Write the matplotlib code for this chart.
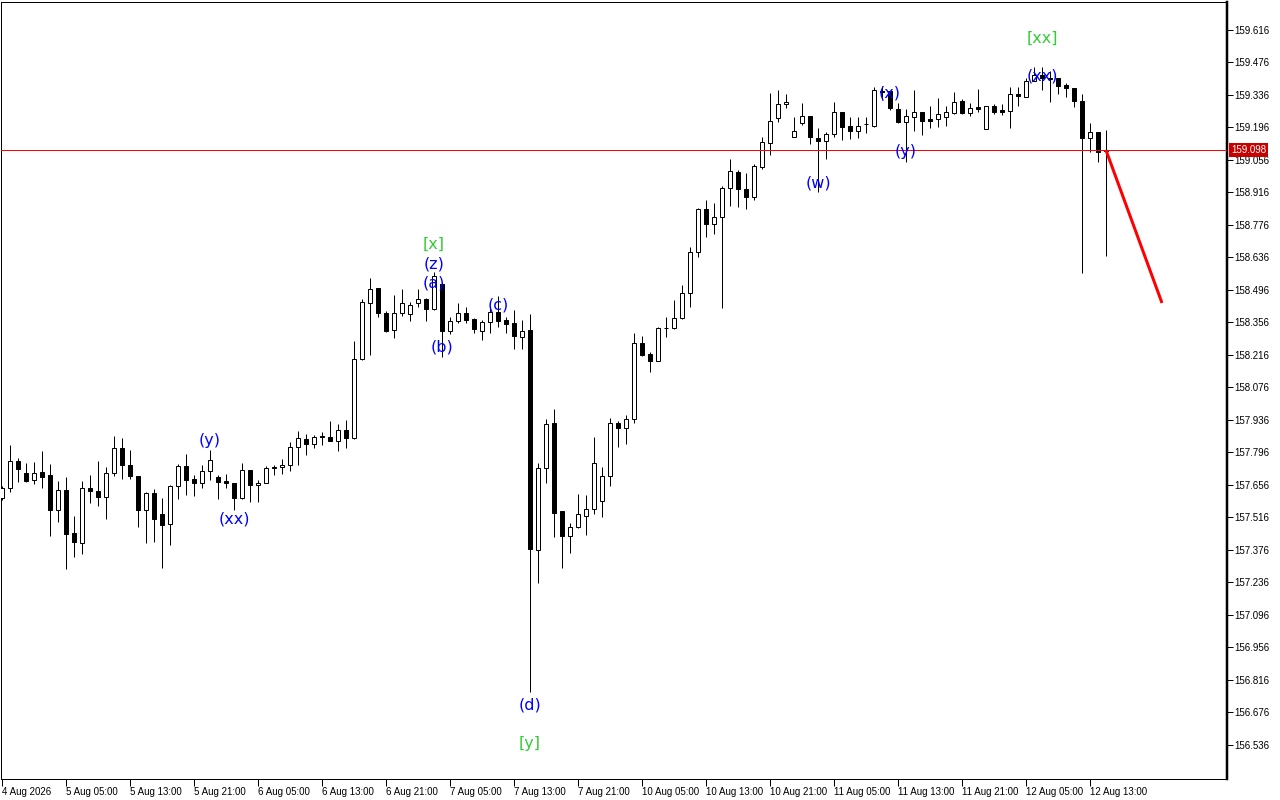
import numpy as np
import matplotlib
matplotlib.use('Agg')
import matplotlib.pyplot as plt
from matplotlib.patches import Rectangle

# hourly candles, bar 0 = 4 Aug 21:00
opens = [157.600, 157.642, 157.758, 157.706, 157.679, 157.711, 157.698, 157.547, 157.633, 157.448,
         157.407, 157.642, 157.630, 157.606, 157.706, 157.814, 157.741, 157.695, 157.550, 157.622,
         157.530, 157.487, 157.650, 157.737, 157.681, 157.663, 157.715, 157.689, 157.672, 157.663,
         157.599, 157.719, 157.655, 157.663, 157.732, 157.732, 157.741, 157.818, 157.853, 157.831,
         157.866, 157.861, 157.844, 157.892, 157.857, 158.197, 158.440, 158.503, 158.396, 158.324,
         158.396, 158.393, 158.439, 158.456, 158.413, 158.522, 158.321, 158.364, 158.396, 158.370,
         158.321, 158.357, 158.400, 158.367, 158.353, 158.295, 158.324, 157.376, 157.728, 157.922,
         157.544, 157.438, 157.476, 157.524, 157.551, 157.588, 157.695, 157.922, 157.900, 157.939,
         158.266, 158.219, 158.191, 158.331, 158.331, 158.374, 158.482, 158.658, 158.844, 158.779,
         158.809, 158.934, 159.003, 158.930, 158.895, 159.027, 159.128, 159.236, 159.296, 159.156,
         159.217, 159.246, 159.150, 159.139, 159.168, 159.261, 159.202, 159.182, 159.210, 159.202,
         159.353, 159.353, 159.274, 159.221, 159.243, 159.264, 159.231, 159.231, 159.243, 159.260,
         159.310, 159.257, 159.283, 159.188, 159.289, 159.271, 159.268, 159.340, 159.326, 159.396,
         159.422, 159.408, 159.408, 159.379, 159.365, 159.310, 159.149, 159.178, 159.095]
highs = [157.652, 157.828, 157.774, 157.750, 157.754, 157.802, 157.748, 157.672, 157.689, 157.522,
         157.673, 157.698, 157.759, 157.732, 157.867, 157.857, 157.807, 157.696, 157.626, 157.637,
         157.600, 157.655, 157.745, 157.791, 157.698, 157.741, 157.807, 157.698, 157.702, 157.663,
         157.752, 157.719, 157.676, 157.737, 157.741, 157.767, 157.840, 157.887, 157.874, 157.870,
         157.883, 157.930, 157.917, 157.935, 158.275, 158.457, 158.546, 158.505, 158.407, 158.474,
         158.499, 158.446, 158.499, 158.460, 158.574, 158.526, 158.378, 158.439, 158.421, 158.374,
         158.367, 158.417, 158.470, 158.381, 158.410, 158.367, 158.393, 157.749, 157.939, 157.983,
         157.544, 157.491, 157.617, 157.613, 157.864, 157.732, 157.943, 157.932, 157.957, 158.309,
         158.298, 158.229, 158.335, 158.378, 158.453, 158.518, 158.680, 158.848, 158.884, 158.872,
         158.944, 159.060, 159.013, 159.001, 159.039, 159.156, 159.343, 159.358, 159.339, 159.243,
         159.300, 159.246, 159.193, 159.178, 159.305, 159.261, 159.243, 159.243, 159.240, 159.372,
         159.375, 159.353, 159.300, 159.274, 159.358, 159.264, 159.289, 159.322, 159.289, 159.348,
         159.317, 159.300, 159.361, 159.290, 159.296, 159.296, 159.372, 159.372, 159.410, 159.458,
         159.458, 159.441, 159.408, 159.386, 159.365, 159.339, 159.214, 159.178, 159.185]
lows = [157.591, 157.627, 157.668, 157.669, 157.660, 157.644, 157.438, 157.498, 157.295, 157.347,
        157.359, 157.580, 157.566, 157.510, 157.696, 157.682, 157.682, 157.476, 157.407, 157.412,
        157.300, 157.399, 157.596, 157.613, 157.610, 157.642, 157.678, 157.594, 157.642, 157.548,
        157.597, 157.584, 157.581, 157.663, 157.698, 157.702, 157.715, 157.741, 157.784, 157.814,
        157.827, 157.844, 157.801, 157.814, 157.854, 158.194, 158.216, 158.381, 158.316, 158.288,
        158.385, 158.364, 158.424, 158.364, 158.410, 158.209, 158.306, 158.353, 158.355, 158.309,
        158.281, 158.312, 158.335, 158.312, 158.241, 158.241, 156.764, 157.233, 157.663, 157.433,
        157.297, 157.362, 157.469, 157.441, 157.530, 157.519, 157.653, 157.818, 157.831, 157.922,
        158.212, 158.144, 158.190, 158.292, 158.330, 158.373, 158.424, 158.639, 158.726, 158.736,
        158.417, 158.859, 158.855, 158.845, 158.884, 159.017, 159.078, 159.221, 159.279, 159.156,
        159.207, 159.124, 158.919, 159.060, 159.156, 159.142, 159.145, 159.149, 159.174, 159.199,
        159.314, 159.271, 159.214, 159.049, 159.182, 159.164, 159.193, 159.199, 159.204, 159.254,
        159.253, 159.246, 159.264, 159.188, 159.253, 159.250, 159.195, 159.290, 159.326, 159.396,
        159.358, 159.307, 159.339, 159.326, 159.283, 158.569, 159.092, 159.049, 158.643]
closes = [157.643, 157.758, 157.726, 157.675, 157.706, 157.692, 157.550, 157.633, 157.446, 157.412,
          157.642, 157.631, 157.606, 157.706, 157.814, 157.741, 157.696, 157.550, 157.622, 157.511,
          157.485, 157.650, 157.737, 157.676, 157.663, 157.715, 157.762, 157.668, 157.663, 157.599,
          157.719, 157.655, 157.663, 157.728, 157.728, 157.741, 157.818, 157.857, 157.831, 157.861,
          157.861, 157.844, 157.892, 157.857, 158.197, 158.443, 158.502, 158.396, 158.321, 158.396,
          158.439, 158.430, 158.459, 158.413, 158.556, 158.321, 158.364, 158.396, 158.367, 158.327,
          158.357, 158.400, 158.364, 158.348, 158.299, 158.321, 157.379, 157.728, 157.917, 157.537,
          157.438, 157.476, 157.530, 157.553, 157.749, 157.695, 157.922, 157.900, 157.939, 158.266,
          158.216, 158.191, 158.331, 158.332, 158.374, 158.482, 158.658, 158.844, 158.779, 158.809,
          158.934, 159.007, 158.930, 158.895, 159.030, 159.132, 159.225, 159.296, 159.307, 159.182,
          159.246, 159.154, 159.139, 159.168, 159.261, 159.199, 159.182, 159.202, 159.210, 159.358,
          159.349, 159.279, 159.221, 159.246, 159.264, 159.225, 159.225, 159.254, 159.264, 159.307,
          159.257, 159.279, 159.277, 159.290, 159.264, 159.264, 159.339, 159.332, 159.396, 159.422,
          159.408, 159.404, 159.375, 159.365, 159.311, 159.149, 159.178, 159.092, 159.098]

timeLabels = ['4 Aug 2026', '5 Aug 05:00', '5 Aug 13:00', '5 Aug 21:00', '6 Aug 05:00',
              '6 Aug 13:00', '6 Aug 21:00', '7 Aug 05:00', '7 Aug 13:00', '7 Aug 21:00',
              '10 Aug 05:00', '10 Aug 13:00', '10 Aug 21:00', '11 Aug 05:00', '11 Aug 13:00',
              '11 Aug 21:00', '12 Aug 05:00', '12 Aug 13:00']
priceTicks = [156.536, 156.676, 156.816, 156.956, 157.096, 157.236, 157.376, 157.516, 157.656,
              157.796, 157.936, 158.076, 158.216, 158.356, 158.496, 158.636, 158.776, 158.916,
              159.056, 159.196, 159.336, 159.476, 159.616]

# wave marks: bar, text, colour, attached to high or low
waveBars = [26, 29, 54, 54, 54, 55, 62, 66, 66, 102, 111, 113, 130, 130]
waveTexts = ['(y)', '(xx)', '[x]', '(z)', '(a)', '(b)', '(c)', '(d)', '[y]', '(w)', '(x)', '(y)', '(xx)', '[xx]']
waveColors = ['blue', 'blue', 'limegreen', 'blue', 'blue', 'blue', 'blue', 'blue', 'limegreen',
              'blue', 'blue', 'blue', 'blue', 'limegreen']
waveSides = ['high', 'low', 'high', 'high', 'high', 'low', 'high', 'low', 'low', 'low', 'high', 'low', 'high', 'high']
waveShift = [9, -9, 28, 8, -11, 10, -9, -13, -51, 9, -2, 10, -9, 28]

forecastX = [138, 145]
forecastY = [159.098, 158.440]

fig = plt.figure(figsize=(12.8, 8), dpi=100)
ax = fig.add_axes([1 / 1280, 21 / 800, 1226 / 1280, 777 / 800])

px = 1 * 72 / 100
n = len(opens)
x = np.arange(n)
ax.vlines(x, lows, highs, color='black', lw=px, zorder=2)
bw = 0.55
for i in range(n):
    o, c = opens[i], closes[i]
    bottom = min(o, c)
    h = abs(c - o)
    if c >= o:
        face = 'white'
    else:
        face = 'black'
    ax.add_patch(Rectangle((i - bw / 2, bottom), bw, h, facecolor=face,
                           edgecolor='black', lw=px, zorder=3))

ax.axhline(closes[-1], color='red', lw=px, zorder=4)
ax.plot(forecastX, forecastY, color='red', lw=3 * px, zorder=5, solid_capstyle='butt')

for i in range(len(waveBars)):
    b = waveBars[i]
    yv = highs[b] if waveSides[i] == 'high' else lows[b]
    ax.annotate(waveTexts[i], xy=(b, yv), xytext=(0, waveShift[i]), textcoords='offset pixels',
                ha='center', va='center', color=waveColors[i], fontsize=11.5,
                family='DejaVu Sans', zorder=6)

ax.set_xlim(-0.125, 153.125)
ax.set_ylim(156.3895, 159.7366)

ax.yaxis.tick_right()
ax.set_yticks(priceTicks)
ax.set_yticklabels(['%.3f' % v for v in priceTicks])
ax.set_xticks(np.arange(0, 8 * len(timeLabels), 8))
ax.set_xticklabels(timeLabels, ha='left')
ax.tick_params(axis='y', direction='out', length=4, width=px, pad=1, labelsize=7,
               labelfontfamily='Liberation Sans')
ax.tick_params(axis='x', direction='out', length=5, width=px, pad=1, labelsize=7,
               labelfontfamily='Liberation Sans')
for s in ['top', 'left', 'bottom']:
    ax.spines[s].set_linewidth(px)
ax.spines['right'].set_linewidth(2.5 * px)

ax.annotate('%.3f' % closes[-1], xy=(1, closes[-1]), xycoords=('axes fraction', 'data'),
            xytext=(4, 0), textcoords='offset pixels', ha='left', va='center', color='white',
            fontsize=7, family='Liberation Sans', annotation_clip=False,
            bbox=dict(boxstyle='square,pad=0.2', fc='#c80000', ec='none'), zorder=10)

fig.savefig('out.png', dpi=100)
